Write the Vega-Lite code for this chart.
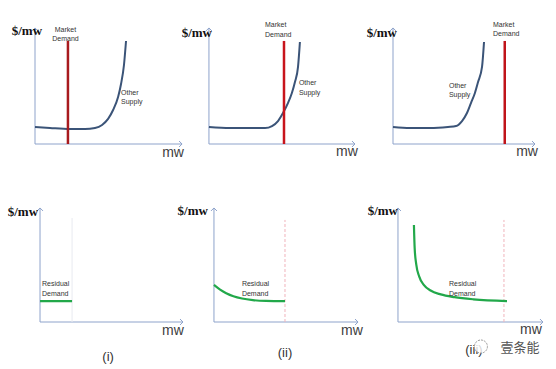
{
  "$schema": "https://vega.github.io/schema/vega-lite/v6.json",
  "background": "white",
  "padding": 0,
  "spacing": 0,
  "bounds": "flush",
  "columns": 3,
  "config": {"view": {"stroke": null}},
  "concat": [
        {
          "width": 185, "height": 170,
          "encoding": {
            "x": {"field": "x", "type": "quantitative", "scale": {"domain": [-23.8, 102.0], "nice": false, "zero": false}, "axis": null},
            "y": {"field": "y", "type": "quantitative", "scale": {"domain": [-22.4, 124.1], "nice": false, "zero": false}, "axis": null}
          },
          "layer": [
            {"data": {"values": [{"x": 0, "y": 0, "x2": 100, "y2": 0}, {"x": 0, "y": 0, "x2": 0, "y2": 100}]},
             "mark": {"type": "rule", "color": "#8EA3CB", "strokeWidth": 1}, "encoding": {"x2": {"field": "x2"}, "y2": {"field": "y2"}}},
            {"data": {"values": [{"x": 100, "y": 0, "dir": "r"}, {"x": 0, "y": 100, "dir": "u"}]},
             "mark": {"type": "point", "filled": false, "color": "#8EA3CB", "strokeWidth": 1, "size": 36, "opacity": 1},
             "encoding": {"shape": {"field": "dir", "type": "nominal", "scale": {"domain": ["r", "u"], "range": ["M-1,-1L0,0L-1,1", "M-1,1L0,0L1,1"]}, "legend": null}}},
            {"data": {"values": [{"x": 0, "y": 14.7}, {"x": 10.2, "y": 13.8}, {"x": 23.8, "y": 12.9}, {"x": 34.0, "y": 12.9}, {"x": 40.8, "y": 13.8}, {"x": 45.6, "y": 16.4}, {"x": 49.7, "y": 21.6}, {"x": 53.1, "y": 29.3}, {"x": 56.5, "y": 40.5}, {"x": 58.5, "y": 51.7}, {"x": 60.5, "y": 68.1}, {"x": 61.9, "y": 88.8}]},
             "mark": {"type": "line", "color": "#3B5478", "strokeWidth": 2, "interpolate": "monotone"}, "encoding": {}},
            {"data": {"values": [{"x": 22.4, "y": 0, "y2": 88.8}]},
             "mark": {"type": "rule", "color": "#A81A1E", "strokeWidth": 2.5}, "encoding": {"y2": {"field": "y2"}}},
            {"data": {"values": [{"x": 20.7, "y": 98.3, "t": "Market"}, {"x": 20.7, "y": 90.5, "t": "Demand"}]},
             "mark": {"type": "text", "fontSize": 7, "font": "Liberation Sans", "color": "#333333", "align": "center"}, "encoding": {"text": {"field": "t"}}},
            {"data": {"values": [{"x": 58.5, "y": 44.0, "t": "Other"}, {"x": 58.5, "y": 36.2, "t": "Supply"}]},
             "mark": {"type": "text", "fontSize": 7, "font": "Liberation Sans", "color": "#333333", "align": "left"}, "encoding": {"text": {"field": "t"}}},
            {"data": {"values": [{"x": 4.8, "y": 97.4, "t": "$/mw"}]},
             "mark": {"type": "text", "fontSize": 13, "font": "Liberation Serif", "fontWeight": "bold", "color": "#111111", "align": "right"}, "encoding": {"text": {"field": "t"}}},
            {"data": {"values": [{"x": 93.9, "y": -7.8, "t": "mw"}]},
             "mark": {"type": "text", "fontSize": 14, "font": "Liberation Sans", "color": "#404040", "align": "center"}, "encoding": {"text": {"field": "t"}}}
          ]
        },
        {
          "width": 185, "height": 170,
          "encoding": {
            "x": {"field": "x", "type": "quantitative", "scale": {"domain": [-16.4, 110.3], "nice": false, "zero": false}, "axis": null},
            "y": {"field": "y", "type": "quantitative", "scale": {"domain": [-22.4, 124.1], "nice": false, "zero": false}, "axis": null}
          },
          "layer": [
            {"data": {"values": [{"x": 0, "y": 0, "x2": 100, "y2": 0}, {"x": 0, "y": 0, "x2": 0, "y2": 100}]},
             "mark": {"type": "rule", "color": "#8EA3CB", "strokeWidth": 1}, "encoding": {"x2": {"field": "x2"}, "y2": {"field": "y2"}}},
            {"data": {"values": [{"x": 100, "y": 0, "dir": "r"}, {"x": 0, "y": 100, "dir": "u"}]},
             "mark": {"type": "point", "filled": false, "color": "#8EA3CB", "strokeWidth": 1, "size": 36, "opacity": 1},
             "encoding": {"shape": {"field": "dir", "type": "nominal", "scale": {"domain": ["r", "u"], "range": ["M-1,-1L0,0L-1,1", "M-1,1L0,0L1,1"]}, "legend": null}}},
            {"data": {"values": [{"x": 0, "y": 14.7}, {"x": 14.4, "y": 13.8}, {"x": 28.1, "y": 13.8}, {"x": 38.4, "y": 13.8}, {"x": 43.2, "y": 15.5}, {"x": 47.3, "y": 19.8}, {"x": 50.7, "y": 26.7}, {"x": 54.1, "y": 35.3}, {"x": 56.8, "y": 44.0}, {"x": 58.9, "y": 53.4}, {"x": 61.0, "y": 66.4}, {"x": 62.3, "y": 87.9}]},
             "mark": {"type": "line", "color": "#3B5478", "strokeWidth": 2, "interpolate": "monotone"}, "encoding": {}},
            {"data": {"values": [{"x": 51.4, "y": 0, "y2": 88.8}]},
             "mark": {"type": "rule", "color": "#C8141C", "strokeWidth": 2.5}, "encoding": {"y2": {"field": "y2"}}},
            {"data": {"values": [{"x": 38.4, "y": 102.6, "t": "Market"}, {"x": 38.4, "y": 94.0, "t": "Demand"}]},
             "mark": {"type": "text", "fontSize": 7, "font": "Liberation Sans", "color": "#333333", "align": "left"}, "encoding": {"text": {"field": "t"}}},
            {"data": {"values": [{"x": 61.6, "y": 52.6, "t": "Other"}, {"x": 61.6, "y": 44.0, "t": "Supply"}]},
             "mark": {"type": "text", "fontSize": 7, "font": "Liberation Sans", "color": "#333333", "align": "left"}, "encoding": {"text": {"field": "t"}}},
            {"data": {"values": [{"x": 2.1, "y": 95.7, "t": "$/mw"}]},
             "mark": {"type": "text", "fontSize": 13, "font": "Liberation Serif", "fontWeight": "bold", "color": "#111111", "align": "right"}, "encoding": {"text": {"field": "t"}}},
            {"data": {"values": [{"x": 94.5, "y": -6.9, "t": "mw"}]},
             "mark": {"type": "text", "fontSize": 14, "font": "Liberation Sans", "color": "#404040", "align": "center"}, "encoding": {"text": {"field": "t"}}}
          ]
        },
        {
          "width": 186, "height": 170,
          "encoding": {
            "x": {"field": "x", "type": "quantitative", "scale": {"domain": [-16.2, 114.8], "nice": false, "zero": false}, "axis": null},
            "y": {"field": "y", "type": "quantitative", "scale": {"domain": [-22.4, 124.1], "nice": false, "zero": false}, "axis": null}
          },
          "layer": [
            {"data": {"values": [{"x": 0, "y": 0, "x2": 100, "y2": 0}, {"x": 0, "y": 0, "x2": 0, "y2": 100}]},
             "mark": {"type": "rule", "color": "#8EA3CB", "strokeWidth": 1}, "encoding": {"x2": {"field": "x2"}, "y2": {"field": "y2"}}},
            {"data": {"values": [{"x": 100, "y": 0, "dir": "r"}, {"x": 0, "y": 100, "dir": "u"}]},
             "mark": {"type": "point", "filled": false, "color": "#8EA3CB", "strokeWidth": 1, "size": 36, "opacity": 1},
             "encoding": {"shape": {"field": "dir", "type": "nominal", "scale": {"domain": ["r", "u"], "range": ["M-1,-1L0,0L-1,1", "M-1,1L0,0L1,1"]}, "legend": null}}},
            {"data": {"values": [{"x": 0, "y": 14.7}, {"x": 12.0, "y": 13.8}, {"x": 26.1, "y": 13.8}, {"x": 38.7, "y": 14.7}, {"x": 44.4, "y": 15.5}, {"x": 48.6, "y": 19.8}, {"x": 52.1, "y": 26.7}, {"x": 54.9, "y": 35.3}, {"x": 57.7, "y": 44.0}, {"x": 59.9, "y": 53.4}, {"x": 62.7, "y": 66.4}, {"x": 64.1, "y": 87.9}]},
             "mark": {"type": "line", "color": "#3B5478", "strokeWidth": 2, "interpolate": "monotone"}, "encoding": {}},
            {"data": {"values": [{"x": 78.7, "y": 0, "y2": 88.8}]},
             "mark": {"type": "rule", "color": "#C0141A", "strokeWidth": 2.5}, "encoding": {"y2": {"field": "y2"}}},
            {"data": {"values": [{"x": 70.4, "y": 102.6, "t": "Market"}, {"x": 70.4, "y": 95.0, "t": "Demand"}]},
             "mark": {"type": "text", "fontSize": 7, "font": "Liberation Sans", "color": "#333333", "align": "left"}, "encoding": {"text": {"field": "t"}}},
            {"data": {"values": [{"x": 39.4, "y": 50.0, "t": "Other"}, {"x": 39.4, "y": 42.2, "t": "Supply"}]},
             "mark": {"type": "text", "fontSize": 7, "font": "Liberation Sans", "color": "#333333", "align": "left"}, "encoding": {"text": {"field": "t"}}},
            {"data": {"values": [{"x": 2.8, "y": 95.7, "t": "$/mw"}]},
             "mark": {"type": "text", "fontSize": 13, "font": "Liberation Serif", "fontWeight": "bold", "color": "#111111", "align": "right"}, "encoding": {"text": {"field": "t"}}},
            {"data": {"values": [{"x": 94.4, "y": -6.9, "t": "mw"}]},
             "mark": {"type": "text", "fontSize": 14, "font": "Liberation Sans", "color": "#404040", "align": "center"}, "encoding": {"text": {"field": "t"}}}
          ]
        },
        {
          "width": 185, "height": 199,
          "encoding": {
            "x": {"field": "x", "type": "quantitative", "scale": {"domain": [-28.0, 101.4], "nice": false, "zero": false}, "axis": null},
            "y": {"field": "y", "type": "quantitative", "scale": {"domain": [-41.2, 133.3], "nice": false, "zero": false}, "axis": null}
          },
          "layer": [
            {"data": {"values": [{"x": 0, "y": 0, "x2": 100, "y2": 0}, {"x": 0, "y": 0, "x2": 0, "y2": 100}]},
             "mark": {"type": "rule", "color": "#8EA3CB", "strokeWidth": 1}, "encoding": {"x2": {"field": "x2"}, "y2": {"field": "y2"}}},
            {"data": {"values": [{"x": 100, "y": 0, "dir": "r"}, {"x": 0, "y": 100, "dir": "u"}]},
             "mark": {"type": "point", "filled": false, "color": "#8EA3CB", "strokeWidth": 1, "size": 36, "opacity": 1},
             "encoding": {"shape": {"field": "dir", "type": "nominal", "scale": {"domain": ["r", "u"], "range": ["M-1,-1L0,0L-1,1", "M-1,1L0,0L1,1"]}, "legend": null}}},
            {"data": {"values": [{"x": 22.4, "y": 0, "y2": 91.2}]},
             "mark": {"type": "rule", "color": "#E8EAF0", "strokeWidth": 1}, "encoding": {"y2": {"field": "y2"}}},
            {"data": {"values": [{"x": 0, "y": 18.4}, {"x": 22.4, "y": 18.4}]},
             "mark": {"type": "line", "color": "#22A84A", "strokeWidth": 2.2}, "encoding": {}},
            {"data": {"values": [{"x": 1.4, "y": 33.3, "t": "Residual"}, {"x": 1.4, "y": 24.6, "t": "Demand"}]},
             "mark": {"type": "text", "fontSize": 7, "font": "Liberation Sans", "color": "#333333", "align": "left"}, "encoding": {"text": {"field": "t"}}},
            {"data": {"values": [{"x": -1.4, "y": 96.5, "t": "$/mw"}]},
             "mark": {"type": "text", "fontSize": 13, "font": "Liberation Serif", "fontWeight": "bold", "color": "#111111", "align": "right"}, "encoding": {"text": {"field": "t"}}},
            {"data": {"values": [{"x": 93.0, "y": -7.9, "t": "mw"}]},
             "mark": {"type": "text", "fontSize": 14, "font": "Liberation Sans", "color": "#404040", "align": "center"}, "encoding": {"text": {"field": "t"}}},
            {"data": {"values": [{"x": 47.6, "y": -30.7, "t": "(i)"}]},
             "mark": {"type": "text", "fontSize": 13, "font": "Liberation Sans", "color": "#333333", "align": "center"}, "encoding": {"text": {"field": "t"}}}
          ]
        },
        {
          "width": 185, "height": 199,
          "encoding": {
            "x": {"field": "x", "type": "quantitative", "scale": {"domain": [-20.1, 108.3], "nice": false, "zero": false}, "axis": null},
            "y": {"field": "y", "type": "quantitative", "scale": {"domain": [-41.2, 133.3], "nice": false, "zero": false}, "axis": null}
          },
          "layer": [
            {"data": {"values": [{"x": 0, "y": 0, "x2": 100, "y2": 0}, {"x": 0, "y": 0, "x2": 0, "y2": 100}]},
             "mark": {"type": "rule", "color": "#8EA3CB", "strokeWidth": 1}, "encoding": {"x2": {"field": "x2"}, "y2": {"field": "y2"}}},
            {"data": {"values": [{"x": 100, "y": 0, "dir": "r"}, {"x": 0, "y": 100, "dir": "u"}]},
             "mark": {"type": "point", "filled": false, "color": "#8EA3CB", "strokeWidth": 1, "size": 36, "opacity": 1},
             "encoding": {"shape": {"field": "dir", "type": "nominal", "scale": {"domain": ["r", "u"], "range": ["M-1,-1L0,0L-1,1", "M-1,1L0,0L1,1"]}, "legend": null}}},
            {"data": {"values": [{"x": 49.3, "y": 0, "y2": 89.5}]},
             "mark": {"type": "rule", "color": "#F0B4BC", "strokeWidth": 1, "strokeDash": [3, 2]}, "encoding": {"y2": {"field": "y2"}}},
            {"data": {"values": [{"x": 0, "y": 32.5}, {"x": 4.0, "y": 28.6}, {"x": 8.5, "y": 25.3}, {"x": 13.5, "y": 22.6}, {"x": 19.5, "y": 20.6}, {"x": 27.0, "y": 19.2}, {"x": 36.0, "y": 18.5}, {"x": 49.3, "y": 18.3}]},
             "mark": {"type": "line", "color": "#22A84A", "strokeWidth": 2.2, "interpolate": "monotone"}, "encoding": {}},
            {"data": {"values": [{"x": 19.4, "y": 33.3, "t": "Residual"}, {"x": 19.4, "y": 24.6, "t": "Demand"}]},
             "mark": {"type": "text", "fontSize": 7, "font": "Liberation Sans", "color": "#333333", "align": "left"}, "encoding": {"text": {"field": "t"}}},
            {"data": {"values": [{"x": -4.2, "y": 97.4, "t": "$/mw"}]},
             "mark": {"type": "text", "fontSize": 13, "font": "Liberation Serif", "fontWeight": "bold", "color": "#111111", "align": "right"}, "encoding": {"text": {"field": "t"}}},
            {"data": {"values": [{"x": 95.8, "y": -7.9, "t": "mw"}]},
             "mark": {"type": "text", "fontSize": 14, "font": "Liberation Sans", "color": "#404040", "align": "center"}, "encoding": {"text": {"field": "t"}}},
            {"data": {"values": [{"x": 49.3, "y": -27.2, "t": "(ii)"}]},
             "mark": {"type": "text", "fontSize": 13, "font": "Liberation Sans", "color": "#333333", "align": "center"}, "encoding": {"text": {"field": "t"}}}
          ]
        },
        {
          "width": 186, "height": 199,
          "encoding": {
            "x": {"field": "x", "type": "quantitative", "scale": {"domain": [-19.3, 109.0], "nice": false, "zero": false}, "axis": null},
            "y": {"field": "y", "type": "quantitative", "scale": {"domain": [-41.2, 133.3], "nice": false, "zero": false}, "axis": null}
          },
          "layer": [
            {"data": {"values": [{"x": 0, "y": 0, "x2": 100, "y2": 0}, {"x": 0, "y": 0, "x2": 0, "y2": 100}]},
             "mark": {"type": "rule", "color": "#8EA3CB", "strokeWidth": 1}, "encoding": {"x2": {"field": "x2"}, "y2": {"field": "y2"}}},
            {"data": {"values": [{"x": 100, "y": 0, "dir": "r"}, {"x": 0, "y": 100, "dir": "u"}]},
             "mark": {"type": "point", "filled": false, "color": "#8EA3CB", "strokeWidth": 1, "size": 36, "opacity": 1},
             "encoding": {"shape": {"field": "dir", "type": "nominal", "scale": {"domain": ["r", "u"], "range": ["M-1,-1L0,0L-1,1", "M-1,1L0,0L1,1"]}, "legend": null}}},
            {"data": {"values": [{"x": 73.1, "y": 0, "y2": 89.5}]},
             "mark": {"type": "rule", "color": "#F0B4BC", "strokeWidth": 1, "strokeDash": [3, 2]}, "encoding": {"y2": {"field": "y2"}}},
            {"data": {"values": [{"x": 11.0, "y": 85.1}, {"x": 11.5, "y": 65.0}, {"x": 12.6, "y": 50.5}, {"x": 14.6, "y": 40.0}, {"x": 17.8, "y": 32.6}, {"x": 22.5, "y": 27.6}, {"x": 29.5, "y": 24.2}, {"x": 39.0, "y": 21.8}, {"x": 52.0, "y": 19.9}, {"x": 75.2, "y": 18.4}]},
             "mark": {"type": "line", "color": "#22A84A", "strokeWidth": 2.2, "interpolate": "monotone"}, "encoding": {}},
            {"data": {"values": [{"x": 35.2, "y": 33.3, "t": "Residual"}, {"x": 35.2, "y": 24.6, "t": "Demand"}]},
             "mark": {"type": "text", "fontSize": 7, "font": "Liberation Sans", "color": "#333333", "align": "left"}, "encoding": {"text": {"field": "t"}}},
            {"data": {"values": [{"x": 0, "y": 97.4, "t": "$/mw"}]},
             "mark": {"type": "text", "fontSize": 13, "font": "Liberation Serif", "fontWeight": "bold", "color": "#111111", "align": "right"}, "encoding": {"text": {"field": "t"}}},
            {"data": {"values": [{"x": 91.7, "y": -7.0, "t": "mw"}]},
             "mark": {"type": "text", "fontSize": 14, "font": "Liberation Sans", "color": "#404040", "align": "center"}, "encoding": {"text": {"field": "t"}}},
            {"data": {"values": [{"x": 52.4, "y": -24.6, "t": "(iii)"}]},
             "mark": {"type": "text", "fontSize": 13, "font": "Liberation Sans", "color": "#333333", "align": "center"}, "encoding": {"text": {"field": "t"}}},
            {"data": {"values": [{"x": 57.2, "y": -21.5}]},
             "mark": {"type": "point", "shape": "circle", "filled": true, "fill": "#ffffff", "fillOpacity": 0.8, "stroke": "#9a9a9a", "strokeWidth": 1, "strokeDash": [2, 1], "size": 170}, "encoding": {}},
            {"data": {"values": [{"x": 84.1, "y": -22.8, "t": "壹条能"}]},
             "mark": {"type": "text", "fontSize": 13, "font": "Noto Sans CJK SC", "color": "#555555", "align": "center"}, "encoding": {"text": {"field": "t"}}}
          ]
        }
  ]
}
